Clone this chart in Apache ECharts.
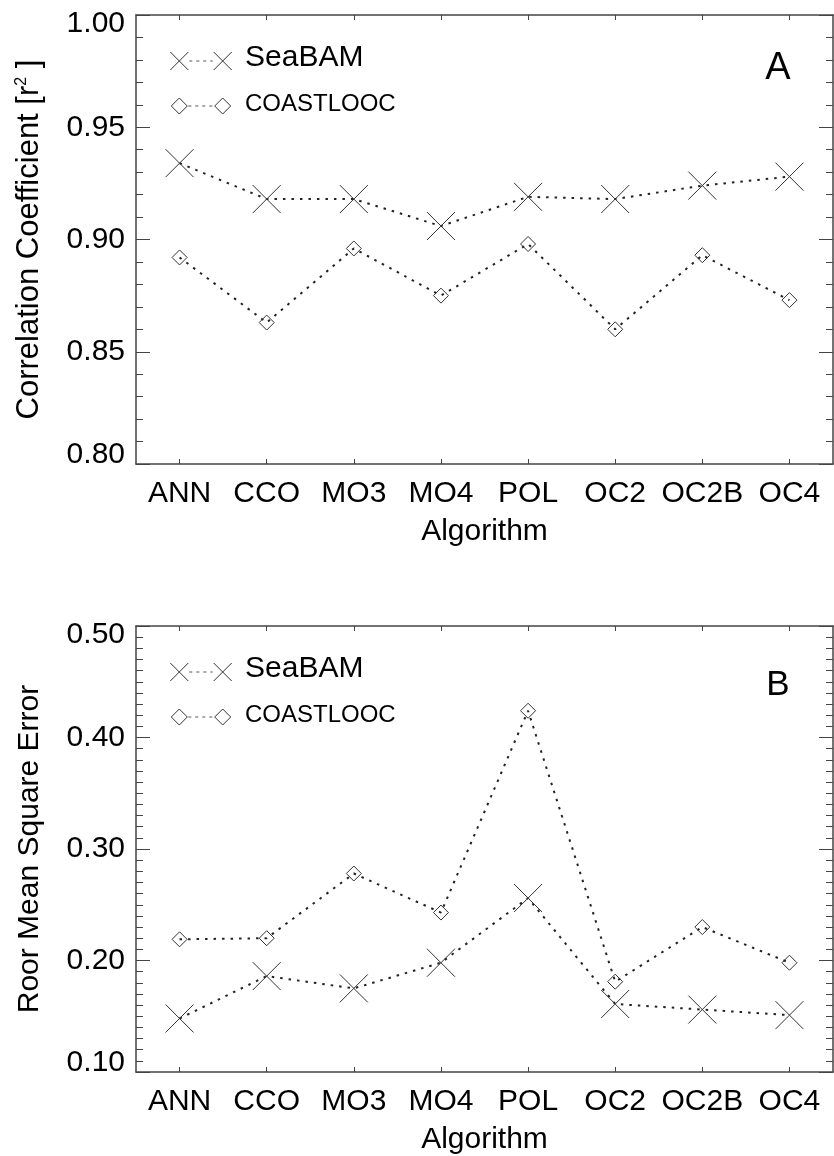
<!DOCTYPE html>
<html>
<head>
<meta charset="utf-8">
<title>Algorithm comparison</title>
<script src="https://cdn.jsdelivr.net/npm/echarts@6/dist/echarts.min.js"></script>
<style>
  html, body { margin: 0; padding: 0; background: #fff; }
  #chart { width: 834px; height: 1156px; }
</style>
</head>
<body>
<div id="chart"></div>
<script>
// Algorithms on the x axis
const algorithms = ['ANN', 'CCO', 'MO3', 'MO4', 'POL', 'OC2', 'OC2B', 'OC4'];

// Panel A: correlation coefficient r^2
const r2SeaBAM    = [0.934, 0.918, 0.918, 0.906, 0.919, 0.918, 0.924, 0.928];
const r2Coastlooc = [0.892, 0.863, 0.896, 0.875, 0.898, 0.860, 0.893, 0.873];

// Panel B: root mean square error
const rmseSeaBAM    = [0.148, 0.186, 0.175, 0.198, 0.256, 0.161, 0.156, 0.151];
const rmseCoastlooc = [0.219, 0.220, 0.278, 0.243, 0.424, 0.181, 0.230, 0.198];

// Series names and panel tags
const seriesNames = ['SeaBAM', 'COASTLOOC'];
const panelTags = ['A', 'B'];
const xAxisTitle = 'Algorithm';

const FONT = '"Liberation Sans", Arial, Helvetica, sans-serif';
const INK = '#222';
const AXIS = '#444';

const GRID_LEFT = 136, GRID_W = 697, GRID_H = 449;
const GRID_TOPS = [15, 626];

const CROSS = 'path://M0,0L10,10M10,0L0,10';

const panels = [
  { min: 0.80, max: 1.00, interval: 0.05, minorSplit: 5,
    name: 'Correlation Coefficient [r{sup|2} ]', nameSize: 31,
    data: [r2SeaBAM, r2Coastlooc], tagDy: 54, tagSize: 38 },
  { min: 0.10, max: 0.50, interval: 0.10, minorSplit: 10,
    name: 'Roor Mean Square Error', nameSize: 30,
    data: [rmseSeaBAM, rmseCoastlooc], tagDy: 59, tagSize: 35 }
];

const grids = [], xAxes = [], yAxes = [], series = [], graphics = [];

panels.forEach((p, i) => {
  const top = GRID_TOPS[i];
  grids.push({ left: GRID_LEFT, top: top, width: GRID_W, height: GRID_H });

  // bottom category axis with labels, and a mirrored top axis for the frame
  xAxes.push({
    type: 'category', gridIndex: i, data: algorithms, boundaryGap: true,
    axisLine: { show: true, lineStyle: { color: AXIS, width: 1.5 } },
    axisTick: { show: true, inside: true, alignWithLabel: true, length: 5, lineStyle: { color: AXIS } },
    axisLabel: { color: '#000', fontFamily: FONT, fontSize: 30, margin: 15, interval: 0 },
    name: xAxisTitle, nameLocation: 'middle', nameGap: 53,
    nameTextStyle: { color: '#000', fontFamily: FONT, fontSize: 30 },
    splitLine: { show: false }
  });
  xAxes.push({
    type: 'category', gridIndex: i, data: algorithms, boundaryGap: true, position: 'top',
    axisLine: { show: true, lineStyle: { color: AXIS, width: 1.5 } },
    axisTick: { show: true, inside: true, alignWithLabel: true, length: 5, lineStyle: { color: AXIS } },
    axisLabel: { show: false }, splitLine: { show: false }
  });

  const fmt = v => {
    const s = v.toFixed(2);
    if (Math.abs(v - p.max) < 1e-9) return '{hi|' + s + '}';
    if (Math.abs(v - p.min) < 1e-9) return '{lo|' + s + '}';
    return s;
  };
  const tickStyle = {
    axisLine: { show: true, lineStyle: { color: AXIS, width: 1.5 } },
    axisTick: { show: true, inside: true, length: 14, lineStyle: { color: AXIS } },
    minorTick: { show: true, splitNumber: p.minorSplit, length: 7, lineStyle: { color: AXIS } },
    splitLine: { show: false }, minorSplitLine: { show: false }
  };
  yAxes.push(Object.assign({
    type: 'value', gridIndex: i, min: p.min, max: p.max, interval: p.interval,
    axisLabel: {
      color: '#000', fontFamily: FONT, fontSize: 30, margin: 11, formatter: fmt,
      rich: {
        hi: { fontFamily: FONT, fontSize: 30, color: '#000', padding: [18, 0, 0, 0] },
        lo: { fontFamily: FONT, fontSize: 30, color: '#000', padding: [0, 0, 18, 0] }
      }
    },
    name: p.name, nameLocation: 'middle', nameGap: 91, nameRotate: 90,
    nameTextStyle: {
      color: '#000', fontFamily: FONT, fontSize: p.nameSize,
      rich: { sup: { fontFamily: FONT, fontSize: 16, color: '#000', verticalAlign: 'top' } }
    }
  }, tickStyle));
  yAxes.push(Object.assign({
    type: 'value', gridIndex: i, position: 'right', min: p.min, max: p.max, interval: p.interval,
    axisLabel: { show: false }
  }, tickStyle));

  // the two data series of this panel
  p.data.forEach((values, k) => {
    series.push({
      type: 'line', name: seriesNames[k], xAxisIndex: i * 2, yAxisIndex: i * 2,
      data: values,
      symbol: k === 0 ? CROSS : 'diamond',
      symbolSize: k === 0 ? 28 : 15,
      showAllSymbol: true,
      itemStyle: { color: 'none', borderColor: '#333', borderWidth: 1 },
      lineStyle: { color: INK, width: 2, type: [2.5, 6] },
      z: 3
    });
  });

  // in-plot key: marker, dotted link, marker, label
  const xA = GRID_LEFT + 43.3, xB = GRID_LEFT + 86.7, xT = GRID_LEFT + 109;
  const y1 = top + 46, y2 = top + 91;
  const stroke = { stroke: '#333', lineWidth: 1, fill: 'none' };
  const cross = (cx, cy, h) => ({
    type: 'polyline', silent: true,
    shape: { points: [[cx - h, cy - h], [cx + h, cy + h]] }, style: stroke
  });
  const cross2 = (cx, cy, h) => ({
    type: 'polyline', silent: true,
    shape: { points: [[cx + h, cy - h], [cx - h, cy + h]] }, style: stroke
  });
  const diamond = (cx, cy, h) => ({
    type: 'polygon', silent: true,
    shape: { points: [[cx, cy - h], [cx + h, cy], [cx, cy + h], [cx - h, cy]] }, style: stroke
  });
  graphics.push(
    cross(xA, y1, 9), cross2(xA, y1, 9), cross(xB, y1, 9), cross2(xB, y1, 9),
    { type: 'line', silent: true, shape: { x1: xA + 10, y1: y1, x2: xB - 10, y2: y1 },
      style: { stroke: '#555', lineWidth: 1, lineDash: [3, 4] } },
    { type: 'text', silent: true, x: xT, y: y1 - 3,
      style: { text: seriesNames[0], font: '30px ' + FONT, fill: '#000', verticalAlign: 'middle' } },
    diamond(xA, y2, 8), diamond(xB, y2, 8),
    { type: 'line', silent: true, shape: { x1: xA + 9, y1: y2, x2: xB - 9, y2: y2 },
      style: { stroke: '#555', lineWidth: 1, lineDash: [3, 4] } },
    { type: 'text', silent: true, x: xT, y: y2 - 2,
      style: { text: seriesNames[1], font: '24px ' + FONT, fill: '#000', verticalAlign: 'middle' } },
    { type: 'text', silent: true, x: GRID_LEFT + 642, y: top + p.tagDy,
      style: { text: panelTags[i], font: p.tagSize + 'px ' + FONT, fill: '#000',
               align: 'center', verticalAlign: 'middle' } }
  );
});

const chart = echarts.init(document.getElementById('chart'), null, { renderer: 'canvas' });
chart.setOption({
  animation: false,
  backgroundColor: '#fff',
  grid: grids,
  xAxis: xAxes,
  yAxis: yAxes,
  series: series,
  graphic: graphics
});
</script>
</body>
</html>
